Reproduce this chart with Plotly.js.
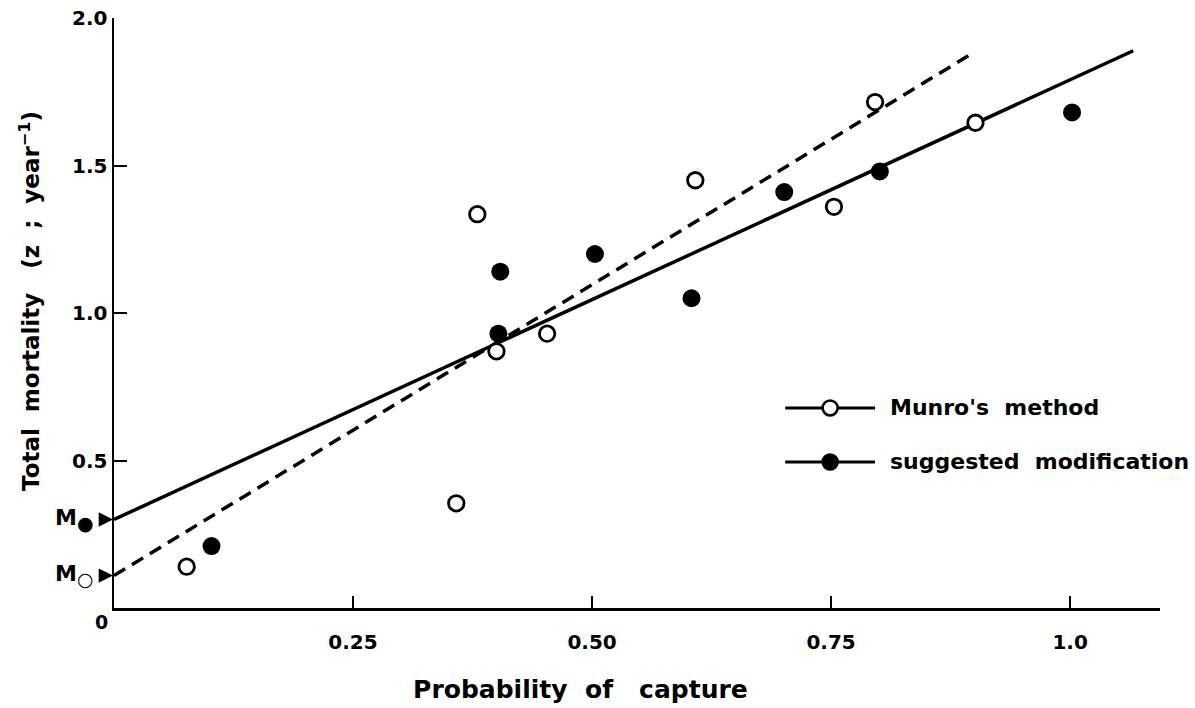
<!DOCTYPE html>
<html>
<head>
<meta charset="utf-8">
<script src="https://cdn.plot.ly/plotly-3.0.1.min.js"></script>
<style>html,body{margin:0;padding:0;background:#fff;}#chart{width:1195px;height:708px;}</style>
</head>
<body>
<div id="chart"></div>
<script>
// ---- data ----
const munroX = [0.076, 0.358, 0.380, 0.400, 0.453, 0.608, 0.753, 0.796, 0.901];
const munroY = [0.14, 0.355, 1.335, 0.87, 0.93, 1.45, 1.36, 1.715, 1.645];
const modX = [0.102, 0.402, 0.404, 0.503, 0.604, 0.701, 0.801, 1.002];
const modY = [0.21, 0.93, 1.14, 1.20, 1.05, 1.41, 1.48, 1.68];
const solidLineX = [0, 1.066];
const solidLineY = [0.30, 1.889];
const dashLineX = [0, 0.895];
const dashLineY = [0.11, 1.875];
const interceptLabels = ['M<sub><span style="font-size:19px">●</span></sub>', 'M<sub><span style="font-size:19px">○</span></sub>'];
const interceptValues = [solidLineY[0], dashLineY[0]];
const xTickVals = [0.25, 0.5, 0.75, 1.0];
const xTickText = ['0.25', '0.50', '0.75', '1.0'];
const yTickVals = [0.5, 1.0, 1.5, 2.0];
const yTickText = ['0.5', '1.0', '1.5', '2.0'];
const legendNames = ["Munro's method", 'suggested modification'];

const NB = '\u00a0';
const ZW = '\u200b';
const FONT = 'DejaVu Sans, Arial, sans-serif';
const W = 'bold';

const traces = [
  {x: solidLineX, y: solidLineY, mode: 'lines', line: {color: '#000', width: 3.5}, showlegend: false, hoverinfo: 'skip'},
  {x: dashLineX, y: dashLineY, mode: 'lines', line: {color: '#000', width: 3.5, dash: '13px,8px'}, showlegend: false, hoverinfo: 'skip'},
  {x: munroX, y: munroY, mode: 'markers', name: legendNames[0], showlegend: false,
   marker: {symbol: 'circle', size: 15.5, color: '#fff', line: {color: '#000', width: 2.8}}},
  {x: modX, y: modY, mode: 'markers', name: legendNames[1], showlegend: false,
   marker: {symbol: 'circle', size: 18, color: '#000', line: {color: '#000', width: 0}}}
];

// legend drawn by hand (positions in data units of the axes)
const legRows = [0.678, 0.495];
const legX0 = 0.702, legX1 = 0.796, legXc = 0.749, legText = 0.810;
const shapes = [];
const annotations = [];
legRows.forEach((ry, i) => {
  shapes.push({type: 'line', xref: 'x', yref: 'y', x0: legX0, x1: legX1, y0: ry, y1: ry, line: {color: '#000', width: 3}});
  shapes.push({type: 'circle', xref: 'x', yref: 'y', xsizemode: 'pixel', ysizemode: 'pixel',
    xanchor: legXc, yanchor: ry, x0: -7.5, x1: 7.5, y0: -7.5, y1: 7.5,
    fillcolor: i === 0 ? '#fff' : '#000', line: {color: '#000', width: 2.6}});
  annotations.push({xref: 'x', yref: 'y', x: legText, y: ry, xanchor: 'left', yanchor: 'middle',
    text: legendNames[i].replace(/ /g, NB + NB), showarrow: false,
    font: {family: FONT, size: 22, weight: W, color: '#000'}});
});

// intercept markers on the y axis: label with arrow pointing at the axis
interceptValues.forEach((v, i) => {
  annotations.push({xref: 'x', yref: 'y', x: 0, y: v, ax: -40, ay: 0,
    text: interceptLabels[i], showarrow: true, borderpad: 7,
    arrowhead: 2, arrowsize: 1.3, arrowwidth: 2.2, arrowcolor: '#000', standoff: 1,
    font: {family: FONT, size: 22, weight: W, color: '#000'}});
});
// origin label
annotations.push({xref: 'x', yref: 'y', x: 0, y: 0, xshift: -13, yshift: -14, text: '0', showarrow: false,
  font: {family: FONT, size: 19, weight: W, color: '#000'}});

const layout = {
  width: 1195, height: 708,
  margin: {l: 114, r: 35, t: 18, b: 100},
  paper_bgcolor: '#fff', plot_bgcolor: '#fff',
  font: {family: FONT, size: 19, color: '#000'},
  showlegend: false,
  xaxis: {
    range: [0, 1.094], showgrid: false, zeroline: false,
    showline: true, linecolor: '#000', linewidth: 2.5,
    ticks: 'inside', ticklen: 12, tickwidth: 2, tickcolor: '#000',
    tickvals: xTickVals, ticktext: xTickText, ticklabelstandoff: 14,
    tickfont: {family: FONT, size: 20, weight: W, color: '#000'},
    title: {text: 'Probability' + NB + NB + 'of' + NB + NB + NB + 'capture' + NB.repeat(13) + ZW, standoff: 28,
      font: {family: FONT, size: 25, weight: W, color: '#000'}}
  },
  yaxis: {
    range: [0, 2.0], showgrid: false, zeroline: false,
    showline: true, linecolor: '#000', linewidth: 2.5,
    ticks: 'inside', ticklen: 13, tickwidth: 2, tickcolor: '#000',
    tickvals: yTickVals, ticktext: yTickText, ticklabelstandoff: 0,
    tickfont: {family: FONT, size: 20, weight: W, color: '#000'},
    title: {text: ZW + NB.repeat(3) + 'Total' + NB + NB + 'mortality' + NB + NB + NB + '(z' + NB + NB + ';' + NB + NB + 'year<sup>−1</sup>)', standoff: 26,
      font: {family: FONT, size: 23, weight: W, color: '#000'}}
  },
  shapes: shapes,
  annotations: annotations
};

Plotly.newPlot('chart', traces, layout, {displayModeBar: false, staticPlot: true});
</script>
</body>
</html>
